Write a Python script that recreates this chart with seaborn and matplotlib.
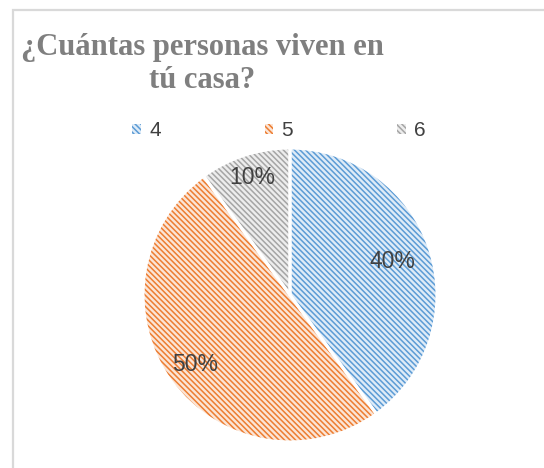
import numpy as np
import seaborn as sns
import matplotlib.pyplot as plt
from matplotlib.patches import Patch, Rectangle

sns.set_theme(style="white")
plt.rcParams['font.family'] = ['Liberation Sans', 'DejaVu Sans']
plt.rcParams['hatch.linewidth'] = 1.1

# data
categories = ['4', '5', '6']
shares = [40, 50, 10]
line_colors = ['#5B9BD5', '#ED7D31', '#A5A5A5']
fill_colors = ['#DEEBF7', '#FBE5D6', '#EDEDED']

HATCH = '\\' * 6

W, H = 544, 468
fig = plt.figure(figsize=(W / 100, H / 100), dpi=100)
fig.patch.set_facecolor('white')

# chart border (left/top visible)
fig.add_artist(Rectangle((12.5 / W, -0.1), 1.2, 1.1 - 10.5 / H,
                         transform=fig.transFigure, fill=False,
                         edgecolor='#D9D9D9', lw=1.6))

cx, cy, r = 290, 295, 147
ax = fig.add_axes([(cx - r) / W, (H - cy - r) / H, 2 * r / W, 2 * r / H])

wedges, _, autotexts = ax.pie(
    shares, colors=fill_colors, startangle=90, counterclock=False,
    autopct='%1.0f%%', pctdistance=0.75,
    wedgeprops=dict(linewidth=0),
    textprops=dict(color='#404040', fontsize=16.5))
for w, c in zip(wedges, line_colors):
    w.set_edgecolor(c)
    w.set_hatch(HATCH)

# white separators
ax.pie(shares, colors=['none'] * 3, startangle=90, counterclock=False,
       wedgeprops=dict(linewidth=2.2, edgecolor='white', fill=False))

# label placement
label_dist = [0.73, 0.80, 0.84]
for w, t, d in zip(wedges, autotexts, label_dist):
    a = np.deg2rad((w.theta1 + w.theta2) / 2)
    t.set_position((d * np.cos(a), d * np.sin(a)))
    t.set_ha('center')
    t.set_va('center')

ax.set_xlim(-1, 1)
ax.set_ylim(-1, 1)
ax.axis('off')

fig.text(202 / W, 1 - 64 / H, '¿Cuántas personas viven en\ntú casa?',
         ha='center', va='center', fontsize=22, fontweight='bold',
         family=['Liberation Serif', 'DejaVu Serif'], color='#7F7F7F',
         linespacing=1.15)

handles = [Patch(facecolor=f, edgecolor=c, hatch=HATCH, linewidth=0)
           for f, c in zip(fill_colors, line_colors)]
fig.legend(handles, categories, loc='center', bbox_to_anchor=(279 / W, 1 - 131 / H),
           ncol=3, frameon=False, fontsize=15, labelcolor='#404040',
           handlelength=0.4, handleheight=0.4, handletextpad=0.4,
           columnspacing=5.0, borderpad=0, borderaxespad=0)

fig.savefig('out.png', dpi=100, facecolor='white')
